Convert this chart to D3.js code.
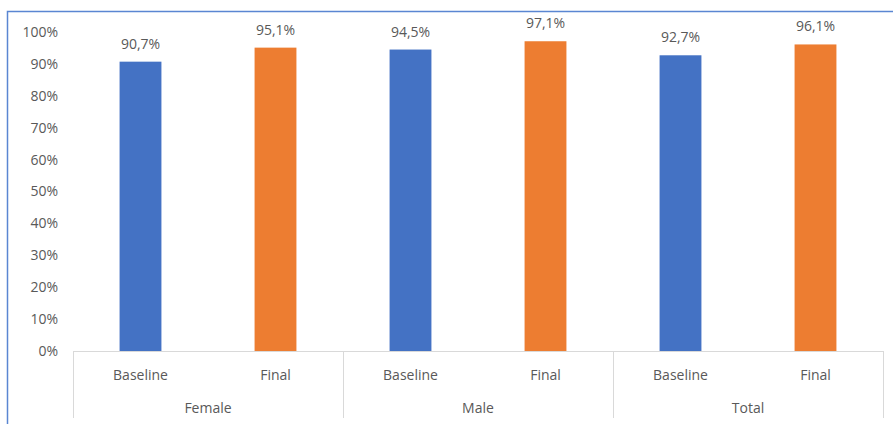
<!DOCTYPE html>
<html>
<head>
<meta charset="utf-8">
<script src="https://cdn.jsdelivr.net/npm/d3@7"></script>
<style>
  body { margin: 0; background: #fff; }
  svg { display: block; font-family: "Open Sans", "Noto Sans", sans-serif; }
</style>
</head>
<body>
<div id="chart"></div>
<script>
// chart data
const groups = ['Female', 'Male', 'Total']
const seriesNames = ['Baseline', 'Final']
const baseline = [90.7, 94.5, 92.7]
const finalVals = [95.1, 97.1, 96.1]
const yTicks = [0, 10, 20, 30, 40, 50, 60, 70, 80, 90, 100]
const colors = ['#4472C4', '#ED7D31']

const W = 893, H = 424
const plotLeft = 73, plotRight = 883, plotTop = 32, plotBottom = 351
const fs = '14px'

var svg = d3.select('#chart').append('svg')
  .attr('width', W)
  .attr('height', H)

// outer frame (only left + top show inside the picture)
svg.append('rect')
  .attr('x', 7.5).attr('y', 11.5)
  .attr('width', 1000).attr('height', 1000)
  .attr('fill', 'none')
  .attr('stroke', '#5a86d2')
  .attr('stroke-width', 1.5)

var y = d3.scaleLinear().domain([0, 100]).range([plotBottom, plotTop])
var x0 = d3.scaleBand().domain(groups).range([plotLeft, plotRight])
var x1 = d3.scaleBand().domain(seriesNames).range([0, x0.bandwidth()])

const rows = groups.map((g, i) => ({ group: g, values: [baseline[i], finalVals[i]] }))

// y tick labels
svg.append('g')
  .selectAll('text')
  .data(yTicks)
  .join('text')
  .attr('x', 58)
  .attr('y', d => y(d))
  .attr('dy', '0.35em')
  .attr('text-anchor', 'end')
  .attr('fill', '#595959')
  .style('font-size', fs)
  .text(d => d + '%')

// bars
var g = svg.append('g')
  .selectAll('g')
  .data(rows)
  .join('g')
  .attr('transform', d => `translate(${x0(d.group)},0)`)

const barW = x1.bandwidth() * 0.31
g.selectAll('rect')
  .data(d => d.values.map((v, i) => ({ key: seriesNames[i], v, i })))
  .join('rect')
  .attr('x', d => x1(d.key) + (x1.bandwidth() - barW) / 2)
  .attr('y', d => y(d.v))
  .attr('width', barW)
  .attr('height', d => y(0) - y(d.v))
  .attr('fill', d => colors[d.i])

// value labels
g.selectAll('text.val')
  .data(d => d.values.map((v, i) => ({ key: seriesNames[i], v })))
  .join('text')
  .attr('class', 'val')
  .attr('x', d => x1(d.key) + x1.bandwidth() / 2)
  .attr('y', d => y(d.v) - 13)
  .attr('text-anchor', 'middle')
  .attr('fill', '#595959')
  .style('font-size', fs)
  .text(d => d.v.toFixed(1).replace('.', ',') + '%')

// category axis
const axisCol = '#d9d9d9'
svg.append('line')
  .attr('x1', plotLeft).attr('x2', plotRight)
  .attr('y1', plotBottom + 0.5).attr('y2', plotBottom + 0.5)
  .attr('stroke', axisCol)

svg.append('g')
  .selectAll('line')
  .data(groups.map(gr => x0(gr)).concat([plotRight]))
  .join('line')
  .attr('x1', d => Math.round(d) + 0.5).attr('x2', d => Math.round(d) + 0.5)
  .attr('y1', plotBottom).attr('y2', 418)
  .attr('stroke', axisCol)

g.selectAll('text.cat')
  .data(seriesNames)
  .join('text')
  .attr('class', 'cat')
  .attr('x', d => x1(d) + x1.bandwidth() / 2)
  .attr('y', 375)
  .attr('dy', '0.35em')
  .attr('text-anchor', 'middle')
  .attr('fill', '#595959')
  .style('font-size', fs)
  .text(d => d)

g.append('text')
  .attr('x', x0.bandwidth() / 2)
  .attr('y', 408)
  .attr('dy', '0.35em')
  .attr('text-anchor', 'middle')
  .attr('fill', '#595959')
  .style('font-size', fs)
  .text(d => d.group)
</script>
</body>
</html>
